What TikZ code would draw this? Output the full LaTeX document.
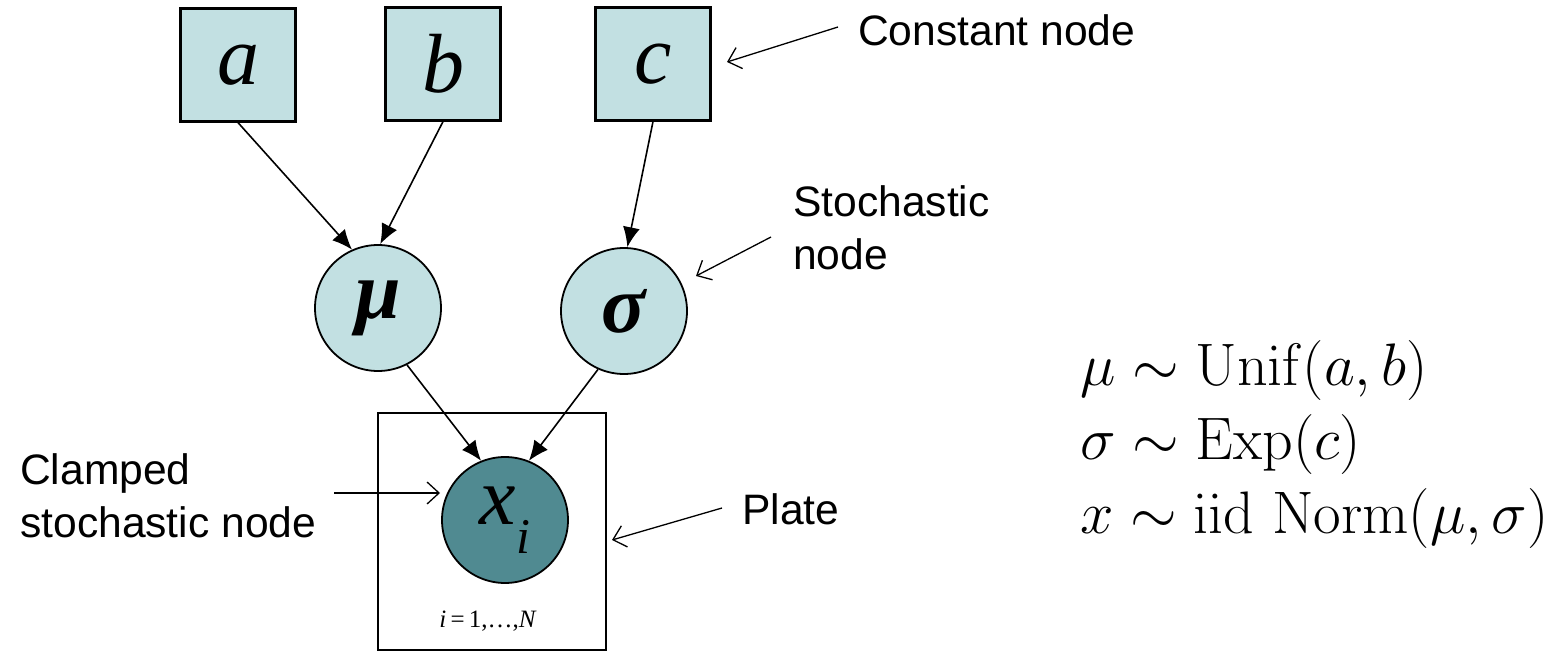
\RequirePackage{fix-cm}
\documentclass[tikz,border=0pt]{standalone}
\usepackage[no-math]{fontspec}
\newfontfamily\seriffont{Liberation Serif}
\newfontfamily\labelfont{Liberation Sans}
\usetikzlibrary{arrows.meta}
\definecolor{lightteal}{RGB}{194,224,226}
\definecolor{darkteal}{RGB}{80,138,145}
\tikzset{
  constbox/.style={draw, line width=2.2pt, fill=lightteal, minimum width=115pt,
    minimum height=113pt, inner sep=0pt, font=\seriffont\itshape\fontsize{84}{84}\selectfont},
  stochnode/.style={circle, draw, line width=1.8pt, fill=lightteal, minimum size=126pt,
    inner sep=0pt, font=\seriffont\bfseries\itshape\fontsize{82}{82}\selectfont},
  clampnode/.style={stochnode, fill=darkteal, font=\seriffont\itshape\fontsize{82}{82}\selectfont},
  edge/.style={-{Latex[length=20pt,width=17pt]}, line width=1.6pt},
  note/.style={-{Straight Barb[length=12pt,width=22pt]}, line width=1.3pt},
  lbl/.style={anchor=west, align=left, inner sep=0pt,
    font=\labelfont\fontsize{42.6}{53}\selectfont},
  eqline/.style={anchor=base west, inner sep=0pt, font=\fontsize{60}{74}\selectfont},
}
\begin{document}
\begin{tikzpicture}[x=1pt,y=-1pt]
\useasboundingbox (0,0) rectangle (1559,652);

% constant nodes
\node[constbox] (a) at (238,65) {a};
\node[constbox] (b) at (443,64) {b};
\node[constbox] (c) at (653,64) {c};

% stochastic nodes
\node[stochnode] (mu) at (378,308) {μ};
\node[stochnode] (sigma) at (624,311) {σ};

% plate with the clamped node
\draw[line width=1.4pt] (378,413) rectangle (606,650);
\node[clampnode] (x) at (505,520) {x\raisebox{-0.35em}{\fontsize{50}{50}\selectfont i}};
\node[font=\seriffont\fontsize{25}{25}\selectfont, anchor=base] (idx) at (488,627)
  {\textit{i}\,=\,1,\ldots,\textit{N}};

% dependencies
\draw[edge] (a.south) -- (mu.114);
\draw[edge] (b.south) -- (mu.88);
\draw[edge] (c.south) -- (sigma.87);
\draw[edge] (mu.-63) -- (x.112);
\draw[edge] (sigma.-114) -- (x.68);

% annotations
\node[lbl] (constlbl) at (858,30) {Constant node};
\node[lbl] (stochlbl) at (793,228) {Stochastic\\node};
\node[lbl] (platelbl) at (742,509) {Plate};
\node[lbl] (clamplbl) at (20,496) {Clamped\\stochastic node};

\coordinate (constend) at (727,62);
\coordinate (stochend) at (696,276);
\coordinate (plateend) at (612,540);
\coordinate (clampend) at (440,493);
\draw[note] ([xshift=-20pt,yshift=3pt]constlbl.west) -- (constend);
\draw[note] ([xshift=-22pt,yshift=-9pt]stochlbl.west) -- (stochend);
\draw[note] ([xshift=-20pt,yshift=1pt]platelbl.west) -- (plateend);
\draw[note] ([xshift=18pt,yshift=3pt]clamplbl.east) -- (clampend);

% model equations
\node[eqline] (eqmu) at (1080,385) {$\mu \sim \mathrm{Unif}(a,b)$};
\node[eqline] (eqsigma) at (1080,459) {$\sigma \sim \mathrm{Exp}(c)$};
\node[eqline] (eqx) at (1080,533) {$x \sim \mathrm{iid}\ \mathrm{Norm}(\mu,\sigma)$};
\end{tikzpicture}
\end{document}
